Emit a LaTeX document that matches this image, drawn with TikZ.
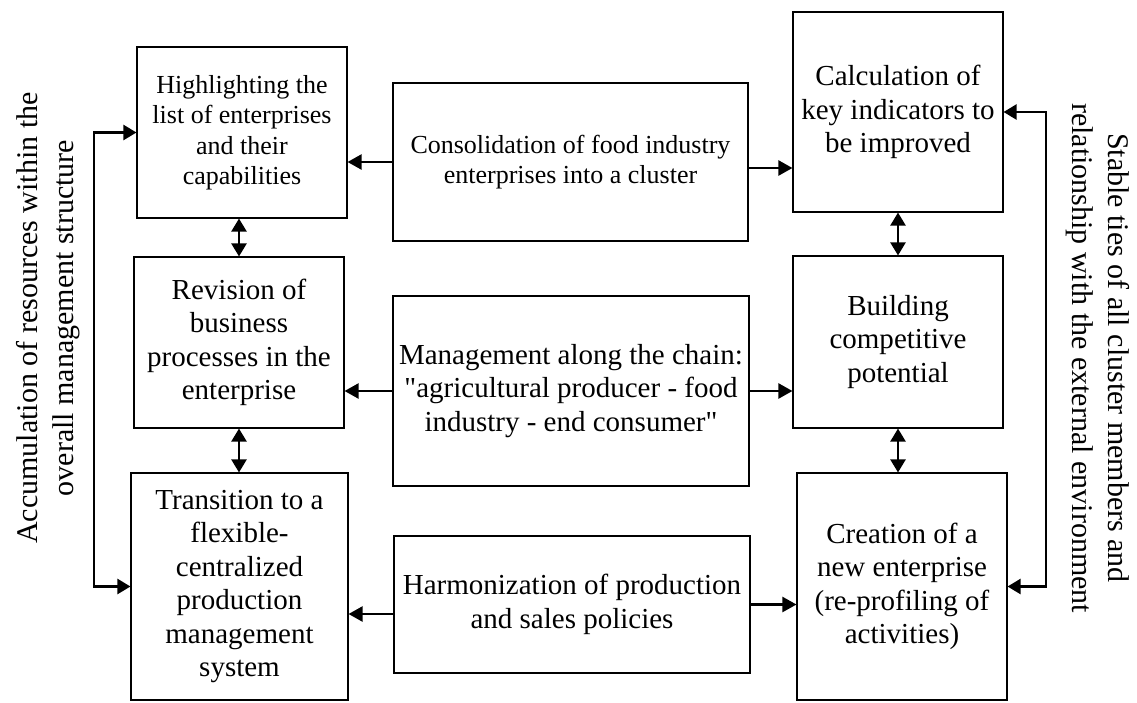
\documentclass[tikz,border=0pt]{standalone}
\usepackage{fontspec}
\setmainfont{Liberation Serif}[Ligatures=TeXOff]
\usetikzlibrary{arrows.meta}
\begin{document}
\begin{tikzpicture}[x=1pt,y=-1pt,
  box/.style={draw, line width=1.1pt, align=center, inner sep=0pt, font=\fontsize{29}{33.5}\selectfont},
  smallbox/.style={box, font=\fontsize{26}{30.5}\selectfont},
  conn/.style={line width=2.3pt, -{Triangle[length=14pt,width=15pt]}},
  both/.style={line width=2.3pt, {Triangle[length=13pt,width=15pt]}-{Triangle[length=13pt,width=15pt]}},
  lbl/.style={align=center, inner sep=0pt, font=\fontsize{30}{36}\selectfont}]
\useasboundingbox (0,0) rectangle (1137,702);
% left column
\node[smallbox, minimum width=210pt, minimum height=171pt] (L1) at (242,132.5) {Highlighting the\\list of enterprises\\and their\\capabilities};
\node[box, minimum width=210pt, minimum height=171pt] (L2) at (239,342.5) {Revision of\\business\\processes in the\\enterprise};
\node[box, minimum width=217pt, minimum height=227pt] (L3) at (239.5,586.5) {Transition to a\\flexible-\\centralized\\production\\management\\system};
% middle column
\node[smallbox, minimum width=355pt, minimum height=158pt] (M1) at (570.5,162) {Consolidation of food industry\\enterprises into a cluster};
\node[box, minimum width=356pt, minimum height=190pt] (M2) at (571,391) {Management along the chain:\\"agricultural producer - food\\industry - end consumer"};
\node[box, minimum width=356pt, minimum height=137pt] (M3) at (572,604.5) {Harmonization of production\\and sales policies};
% right column
\node[box, minimum width=210pt, minimum height=200pt] (R1) at (898,112) {Calculation of\\key indicators to\\be improved};
\node[box, minimum width=210pt, minimum height=172pt] (R2) at (898,342) {Building\\competitive\\potential};
\node[box, minimum width=210pt, minimum height=227pt] (R3) at (902,586.5) {Creation of a\\new enterprise\\(re-profiling of\\activities)};
% side labels
\node[lbl, rotate=90] (LL) at (48,318) {Accumulation of resources within the\\overall management structure};
\node[lbl, rotate=-90] (RL) at (1098,358) {Stable ties of all cluster members and\\relationship with the external environment};
% bracket coordinates
\coordinate (lb) at (94,0);
\coordinate (rb) at (1046,0);
% horizontal arrows
\draw[conn] (M1.west) -- (M1.west -| L1.east);
\draw[conn] ([yshift=-6pt]M1.east) -- ([yshift=-6pt]M1.east -| R1.west);
\draw[conn] (M2.west) -- (M2.west -| L2.east);
\draw[conn] (M2.east) -- (M2.east -| R2.west);
\draw[conn] ([yshift=-9.5pt]M3.west) -- ([yshift=-9.5pt]M3.west -| L3.east);
\draw[conn] (M3.east) -- (M3.east -| R3.west);
% vertical double arrows
\draw[both] (L2.north |- L1.south) -- (L2.north);
\draw[both] (L2.south) -- (L2.south |- L3.north);
\draw[both] (R1.south) -- (R1.south |- R2.north);
\draw[both] (R2.south) -- (R2.south |- R3.north);
% brackets
\draw[both] (L1.west) -- (L1.west -| lb) -- (L3.west -| lb) -- (L3.west);
\draw[both] (R1.east) -- (R1.east -| rb) -- (R3.east -| rb) -- (R3.east);
\end{tikzpicture}
\end{document}
